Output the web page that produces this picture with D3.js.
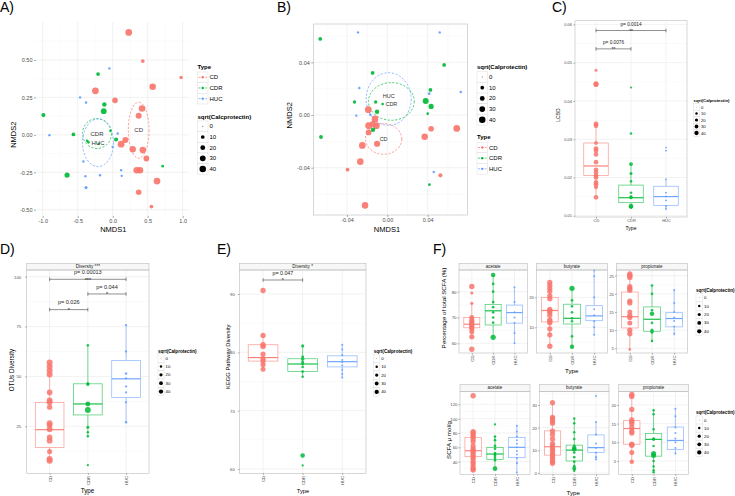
<!DOCTYPE html>
<html><head><meta charset="utf-8">
<script src="https://cdn.jsdelivr.net/npm/d3@7"></script>
<style>
body{margin:0;background:#fff;}
svg{font-family:'Liberation Sans',Arial,sans-serif;display:block;}
</style></head><body>
<svg id="chart" width="735" height="496"></svg>
<script>
// ---------------- DATA ----------------
const types = ["CD","CDR","HUC"];
const typeColors = ["#F8766D","#00BA38","#619CFF"];
const sizeBreaks = [0,10,20,30,40];

// Panel A: [NMDS1, NMDS2, sqrt(Calprotectin)]
const aCD = [[0.229,0.684,34],[0.43,0.493,8],[0.977,0.383,6],[-0.247,0.294,34],[0.571,0.321,32],[0.033,0.23,22],[0.419,0.176,32],[0.371,0.127,26],[0.181,-0.035,26],[0.12,-0.062,34],[0.286,-0.096,30],[0.43,-0.102,32],[0.481,-0.158,24],[0.343,-0.236,32],[0.39,-0.236,32],[0.633,-0.309,34],[0.371,-0.383,22],[0.553,-0.479,8]];
const aCDR = [[-0.99,0.132,10],[-0.209,0.406,8],[-0.119,0.203,12],[-0.128,0.158,24],[-0.561,0.003,8],[-0.652,-0.269,18],[0.048,-0.031,10],[0.714,-0.209,3],[-0.366,-0.04,3],[-0.2,-0.06,3],[-0.033,0.027,3],[-0.347,-0.05,3]];
const aHUC = [[-0.047,0.444,2],[-0.466,0.25,2],[-0.381,0.216,2],[-0.904,-0.002,2],[-0.419,-0.178,2],[-0.39,-0.276,2],[-0.381,-0.352,5],[-0.181,-0.27,2],[0.12,-0.236,2],[0.129,-0.274,2],[0.071,0.009,2],[0.0,-0.08,2]];
const aEllipses = [["CD",0.371,0.031,0.148,0.187],["CDR",-0.224,0.009,0.207,0.1],["HUC",-0.21,-0.053,0.221,0.159]];
const aXTicks = [-1,-0.5,0,0.5,1];
const aYTicks = [-0.5,-0.25,0,0.25,0.5];

// Panel B
const bCD = [[-0.0189,0.004,34],[-0.0122,-0.003,34],[-0.0186,-0.0081,34],[-0.0109,-0.0081,34],[-0.0146,-0.0068,24],[-0.0186,-0.0132,24],[-0.0248,-0.0231,34],[-0.0102,-0.0218,28],[-0.0268,-0.0354,32],[-0.0394,-0.0415,8],[-0.0221,-0.0686,32],[0.037,-0.0165,32],[0.0434,-0.0104,22],[0.0688,-0.0102,34],[0.0526,-0.0458,10]];
const bCDR = [[-0.0665,0.0577,8],[-0.0658,-0.0167,8],[-0.0146,0.0319,8],[-0.0325,0.0099,6],[-0.0116,0.0099,6],[-0.0102,0.0025,12],[-0.0142,-0.0112,12],[-0.0047,0.0083,3],[0.038,0.0106,26],[0.0434,0.0065,18],[0.0563,0.038,8],[0.0427,0.019,8],[0.04,0.001,3],[0.0417,-0.0529,3]];
const bHUC = [[-0.0291,0.0627,2],[0.0519,0.0627,2],[-0.0278,0.0205,2],[-0.0308,-0.0005,2],[0.0728,0.0175,2],[0.0414,0.0162,3],[0.046,-0.0433,2],[-0.0169,0.0002,2]];
const bEllipses = [["CD",-0.0037,-0.0182,0.018,0.0116],["CDR",0.004,0.0103,0.0227,0.0143],["HUC",0.0013,0.0121,0.0223,0.020]];
const bTicks = [-0.04,0,0.04];

// Panel C (LCBD): points [value, sqrt(Calprotectin)], box [lower, q1, median, q3, upper]
const cPoints = {
  CD:[[0.048,8],[0.0445,30],[0.0443,30],[0.034,28],[0.0335,25],[0.029,15],[0.0275,28],[0.027,25],[0.026,25],[0.024,25],[0.022,25],[0.0213,25],[0.0205,25],[0.02,25],[0.0187,25],[0.0182,25],[0.0175,20],[0.0148,25]],
  CDR:[[0.0435,3],[0.0315,5],[0.0235,15],[0.021,8],[0.019,6],[0.016,6],[0.015,8],[0.0147,10],[0.0125,25],[0.0122,10]],
  HUC:[[0.0278,2],[0.027,2],[0.0195,2],[0.016,2],[0.015,2],[0.014,2],[0.0125,2],[0.0118,2]]};
const cBox = {CD:[0.0148,0.0205,0.023,0.029,0.034],CDR:[0.0122,0.0134,0.0147,0.018,0.0235],HUC:[0.0115,0.0127,0.015,0.0177,0.0195]};
const cTicks = [0.01,0.02,0.03,0.04,0.05,0.06];
const cBrackets = [["CD","HUC",0.0584,"p= 0.0014","**"],["CD","CDR",0.0536,"p= 0.0076","**"]];

// Panel D (OTUs diversity)
const dPoints = {
  CD:[[57,30],[55,30],[53,30],[51,30],[42,25],[38,28],[37,28],[34.6,22],[26.5,28],[25.5,25],[23.5,28],[19.5,25],[17.8,28],[12.4,20],[8.6,30],[7.7,30]],
  CDR:[[65.6,3],[46.5,5],[46,5],[36.2,18],[33.2,28],[24.5,5],[22,3],[20,3],[5.5,2]],
  HUC:[[75.7,2],[62.5,2],[51.5,3],[49,2],[45,2],[42,2],[37,2],[27,3]]};
const dBox = {CD:[7.7,14.4,23.3,36.9,57],CDR:[20,30.7,36.2,46.3,65.6],HUC:[27,39.4,48.8,58,75.7]};
const dTicks = [25,50,75,100];
const dBrackets = [["CD","HUC",98.7,"p= 0.00013","***"],["CDR","HUC",91.35,"p= 0.044","*"],["CD","CDR",83.5,"p= 0.026","*"]];

// Panel E (KEGG pathway diversity)
const ePoints = {
  CD:[[90.6,30],[82.9,28],[81.3,30],[81,30],[79.7,28],[78.9,30],[78.5,28],[77.9,28],[77.1,25]],
  CDR:[[81.1,8],[79.2,6],[78.8,8],[78.3,6],[78,5],[77.5,5],[76.7,5],[75.8,4],[62.3,20],[60.6,3]],
  HUC:[[81.3,2],[80.5,2],[79.5,2],[78.7,2],[78.3,2],[77.8,2],[77,2],[76.3,2],[75.7,2]]};
const eBox = {CD:[77.1,78.5,79.1,81.3,82.9],CDR:[75.8,76.7,78,78.9,81.1],HUC:[75.7,77.5,78.4,79.4,81.3]};
const eTicks = [60,70,80,90];
const eBrackets = [["CD","CDR",92.4,"p= 0.047","*"]];

// Panel F top (percentage of total SCFA)
const fPctAcetate = {
  CD:[[82,30],[79.5,8],[75.5,8],[70,25],[69,25],[68.5,25],[68,25],[67.5,25],[67,25],[66.5,25],[66,25],[65.5,25],[64.5,25],[62.5,28],[57.7,30]],
  CDR:[[86.5,20],[83,5],[80,5],[76,5],[74,5],[72,5],[70,5],[68,5],[62.3,28]],
  HUC:[[81.7,2],[76,2],[72,2],[70,2],[68,2],[64,2],[60,2]]};
const fPctAcetateBox = {CD:[62.5,66,67.4,70,75.5],CDR:[62.3,67.1,72.6,75.1,86.5],HUC:[60,67.8,71.9,74.8,81.7]};
const fPctButyrate = {
  CD:[[25,28],[24,28],[23,28],[22,28],[20.5,28],[19.5,28],[16,28],[15.5,28],[15,28],[14,28],[12.5,28],[12,28],[11.5,28],[9.5,28],[7.5,28],[3.7,30]],
  CDR:[[23,28],[19,5],[17,5],[15,5],[13,5],[12,5],[7,5],[3.5,18]],
  HUC:[[28.9,2],[27,2],[20,2],[16,2],[14,2],[12,2],[10,2],[7.5,2]]};
const fPctButyrateBox = {CD:[3.7,11.8,15.6,20,25],CDR:[3.5,11.1,13,17.7,23],HUC:[7.4,12.2,13.8,17.2,28.9]};
const fPctPropionate = {
  CD:[[25.5,30],[25,30],[24.5,30],[22,28],[21.5,28],[21,28],[18,28],[17.5,28],[15,25],[14,28],[13.5,28],[12,25],[10,28],[9,28],[4.7,5]],
  CDR:[[22.3,5],[20,5],[15.5,5],[14.5,20],[12,5],[10,8],[9.5,10],[7,4]],
  HUC:[[21,2],[17.5,2],[15,2],[13.5,2],[12.5,2],[11,2],[9,2]]};
const fPctPropionateBox = {CD:[4.7,10.6,13.7,20.5,25.5],CDR:[6.7,9.7,13,16.4,22.3],HUC:[8.5,10.9,13.2,14.8,21.4]};

// Panel F bottom (SCFA umol/g)
const fMolAcetate = {
  CD:[[132,30],[82,28],[80,28],[78,28],[75,28],[72,28],[68,28],[62,28],[58,28],[55,28],[53,28],[50,28],[47,28],[44,28],[40,28],[37,28],[33,28],[30,28],[28.4,28]],
  CDR:[[92,3],[75,5],[70,5],[62,5],[58,5],[52,5],[50,5],[48,5],[45,5],[42,5],[30.3,22]],
  HUC:[[90,2],[82,2],[75,2],[70,2],[65,2],[60,2],[55,2],[50,2],[45,2],[38,2],[25,2]]};
const fMolAcetateBox = {CD:[28.4,47,55.3,74,82],CDR:[30.3,43.3,50.7,60,75],HUC:[25,45.6,60,74,90]};
const fMolButyrate = {
  CD:[[31,28],[24.5,28],[24,28],[23,28],[22,28],[18.5,28],[17,28],[15,28],[13,28],[12,28],[11,28],[10,28],[9,28],[8,28],[7,28],[6,28],[5,28],[4.3,28]],
  CDR:[[24,4],[22,4],[18,4],[15,4],[12,5],[11,20],[10.5,20],[9,5],[7,5],[5,5],[3,5],[2,15],[1,4]],
  HUC:[[34,2],[22.5,2],[17,2],[13,2],[11,2],[9,2],[7,2],[6,2]]};
const fMolButyrateBox = {CD:[4.3,7.9,11.6,18.6,31],CDR:[1.3,5.3,10.1,12.3,24],HUC:[5.9,9.1,11.2,16.8,22.5]};
const fMolPropionate = {
  CD:[[22.8,30],[22.3,30],[18.8,28],[16,28],[15.5,28],[15,28],[14,28],[13,28],[12.5,28],[9.5,30],[9.2,30],[7.3,25],[4.8,20]],
  CDR:[[18.6,4],[17.5,4],[13.5,4],[11,4],[10.8,8],[9,4],[7,25],[6.5,25],[5,4],[3.5,4],[2.5,4],[2,4]],
  HUC:[[19,2],[17,2],[14,2],[12.5,2],[11,2],[10,2],[8.5,2],[7,2]]};
const fMolPropionateBox = {CD:[4.8,9.5,13.7,15.8,22.8],CDR:[2.1,6.3,10.8,12.4,18.6],HUC:[6.9,8.1,10.5,14.1,19]};

// ---------------- DRAWING ----------------
const svg = d3.select("#chart");
svg.append("rect").attr("width",735).attr("height",496).attr("fill","#fff");
const loc = d3.formatLocale({decimal:".",thousands:",",grouping:[3],currency:["",""],minus:"-"});
const color = d3.scaleOrdinal().domain(types).range(typeColors);
const rScale = d3.scaleSqrt().domain([0,40]).range([0.5,3.6]).clamp(true);

function addText(g,x,y,s,o={}){
  const t=g.append("text").attr("x",x).attr("y",y).text(s)
    .attr("font-size",o.size||6).attr("fill",o.fill||"#000")
    .attr("text-anchor",o.anchor||"start");
  if(o.weight) t.attr("font-weight",o.weight);
  if(o.baseline) t.attr("dominant-baseline",o.baseline);
  if(o.rotate) t.attr("transform",`rotate(${o.rotate},${x},${y})`);
  return t;
}
function minors(ticks){const st=ticks[1]-ticks[0];const out=[];for(let i=-1;i<ticks.length;i++)out.push(ticks[0]+(i+0.5)*st);return out;}
function gridAndBg(g,rect,x,y,xMaj,yMaj,xMin,yMin){
  const [L,T,R,B]=rect;
  g.append("rect").attr("x",L).attr("y",T).attr("width",R-L).attr("height",B-T).attr("fill","#fff");
  const hl=(v,w,c)=>{const p=y(v);if(p>=T&&p<=B)g.append("line").attr("x1",L).attr("x2",R).attr("y1",p).attr("y2",p).attr("stroke",c).attr("stroke-width",w);};
  const vl=(v,w,c)=>{const p=x(v);if(p>=L&&p<=R)g.append("line").attr("x1",p).attr("x2",p).attr("y1",T).attr("y2",B).attr("stroke",c).attr("stroke-width",w);};
  (xMin||[]).forEach(v=>vl(v,0.4,"#F3F3F3"));
  (yMin||[]).forEach(v=>hl(v,0.4,"#F3F3F3"));
  xMaj.forEach(v=>vl(v,0.6,"#EAEAEA"));
  yMaj.forEach(v=>hl(v,0.6,"#EAEAEA"));
}
function border(g,rect){const [L,T,R,B]=rect;g.append("rect").attr("x",L).attr("y",T).attr("width",R-L).attr("height",B-T).attr("fill","none").attr("stroke","#BDBDBD").attr("stroke-width",0.6);}
function axes(g,x,y,rect,o){
  const [L,T,R,B]=rect;
  const ax=g.append("g").attr("transform",`translate(0,${B})`).call(d3.axisBottom(x).tickValues(o.xTicks).tickFormat(o.xFmt).tickSize(o.tick).tickPadding(o.xpad));
  const ay=g.append("g").attr("transform",`translate(${L},0)`).call(d3.axisLeft(y).tickValues(o.yTicks).tickFormat(o.yFmt).tickSize(o.tick).tickPadding(o.ypad));
  [ax,ay].forEach(a=>{a.select(".domain").remove();a.selectAll("line").attr("stroke","#555").attr("stroke-width",0.5);
    a.selectAll("text").attr("font-size",o.font).attr("fill","#4D4D4D").attr("font-family","'Liberation Sans',Arial,sans-serif");});
  if(o.rotateX){ax.selectAll("text").attr("transform","rotate(-90)").attr("text-anchor","end").attr("dy","0.35em").attr("x",-(o.tick+o.xpad)).attr("y",0);}
}

function scatterPanel(c){
  const g=svg.append("g");
  const x=d3.scaleLinear().domain(c.xRef).range(c.xPx);
  const y=d3.scaleLinear().domain(c.yRef).range(c.yPx);
  gridAndBg(g,c.rect,x,y,c.xTicks,c.yTicks,minors(c.xTicks),minors(c.yTicks));
  c.ellipses.forEach(([t,cx,cy,rx,ry])=>{
    g.append("ellipse").attr("cx",x(cx)).attr("cy",y(cy)).attr("rx",Math.abs(x(cx+rx)-x(cx))).attr("ry",Math.abs(y(cy+ry)-y(cy)))
      .attr("fill","none").attr("stroke",color(t)).attr("stroke-width",0.7).attr("stroke-dasharray","2.2,1.6");
  });
  types.forEach(t=>{
    g.append("g").selectAll("circle").data(c.points[t]).join("circle")
      .attr("cx",d=>x(d[0])).attr("cy",d=>y(d[1])).attr("r",d=>rScale(d[2])*c.rf)
      .attr("fill",color(t)).attr("fill-opacity",0.92);
  });
  const shift=c.labelShift||{};
  c.ellipses.forEach(([t,cx,cy])=>addText(g,x(cx),y(cy)+(shift[t]||0),t,{size:c.labelFont,anchor:"middle",baseline:"central",fill:"#333"}));
  if(c.border) border(g,c.rect);
  axes(g,x,y,c.rect,{xTicks:c.xTicks,yTicks:c.yTicks,xFmt:c.fmtX,yFmt:c.fmtY,tick:2,xpad:1.5,ypad:1.5,font:c.tickFont});
  addText(g,c.xTitle[0],c.xTitle[1],"NMDS1",{size:c.titleFont,anchor:"middle"});
  addText(g,c.yTitle[0],c.yTitle[1],"NMDS2",{size:c.titleFont,anchor:"middle",rotate:-90});
}

function boxPanel(c){
  const g=svg.append("g");
  const [L,T,R,B]=c.rect;
  const x=d3.scalePoint().domain(types).range([L,R]).padding(0.6);
  const y=d3.scaleLinear().domain(c.yRef).range(c.yPx);
  const bw=x.step()*c.bw;
  gridAndBg(g,c.rect,x,y,types,c.yTicks,null,minors(c.yTicks));
  if(c.strip){
    g.append("rect").attr("x",L).attr("y",c.strip[0]).attr("width",R-L).attr("height",T-c.strip[0]).attr("fill","#F7F7F7").attr("stroke","#BDBDBD").attr("stroke-width",0.6);
    addText(g,(L+R)/2,(c.strip[0]+T)/2,c.strip[1],{size:c.stripFont,anchor:"middle",baseline:"central",fill:"#1A1A1A"});
  }
  types.forEach(t=>{
    const [lo,q1,md,q3,hi]=c.stats[t];const cx=x(t);const cl=color(t);
    const bg=g.append("g").attr("stroke",cl).attr("stroke-opacity",0.75).attr("stroke-width",0.7);
    bg.append("line").attr("x1",cx).attr("x2",cx).attr("y1",y(q3)).attr("y2",y(hi));
    bg.append("line").attr("x1",cx).attr("x2",cx).attr("y1",y(q1)).attr("y2",y(lo));
    bg.append("rect").attr("x",cx-bw/2).attr("width",bw).attr("y",y(q3)).attr("height",y(q1)-y(q3)).attr("fill","#fff");
    bg.append("line").attr("x1",cx-bw/2).attr("x2",cx+bw/2).attr("y1",y(md)).attr("y2",y(md)).attr("stroke-width",1.2).attr("stroke-opacity",0.9);
  });
  types.forEach(t=>{
    g.append("g").selectAll("circle").data(c.points[t]).join("circle")
      .attr("cx",x(t)).attr("cy",d=>y(d[0])).attr("r",d=>rScale(d[1])*c.rf)
      .attr("fill",color(t)).attr("fill-opacity",0.85);
  });
  (c.brackets||[]).forEach(([a,b,v,label,stars])=>{
    const yy=y(v),x1=x(a),x2=x(b),k=g.append("g").attr("stroke","#444").attr("stroke-width",0.6);
    k.append("line").attr("x1",x1).attr("x2",x2).attr("y1",yy).attr("y2",yy);
    k.append("line").attr("x1",x1).attr("x2",x1).attr("y1",yy-1.8).attr("y2",yy+1.8);
    k.append("line").attr("x1",x2).attr("x2",x2).attr("y1",yy-1.8).attr("y2",yy+1.8);
    addText(g,(x1+x2)/2,yy-c.bracketFont*0.95,label,{size:c.bracketFont,anchor:"middle",fill:"#222"});
    addText(g,(x1+x2)/2,yy+c.bracketFont*0.45,stars,{size:c.bracketFont,anchor:"middle",fill:"#222"});
  });
  border(g,c.rect);
  axes(g,x,y,c.rect,{xTicks:types,yTicks:c.yTicks,xFmt:d=>d,yFmt:c.fmtY,tick:1.5,xpad:1,ypad:c.ypad,font:c.tickFont,rotateX:c.rotateX});
  if(c.xTitle) addText(g,c.xTitle[0],c.xTitle[1],"Type",{size:c.titleFont,anchor:"middle"});
  if(c.yTitle) addText(g,c.yTitle[0],c.yTitle[1],c.yTitle[2],{size:c.titleFont,anchor:"middle",rotate:-90});
}

function sizeLegend(c){
  const g=svg.append("g");
  addText(g,c.x,c.titleY,c.title,{size:c.titleFont,weight:"bold"});
  sizeBreaks.forEach((v,i)=>{
    const cy=c.y0+i*c.step;
    g.append("rect").attr("x",c.x).attr("y",cy-c.step/2).attr("width",c.w).attr("height",c.step).attr("fill","#fff").attr("stroke","#D6D6D6").attr("stroke-width",0.4);
    g.append("circle").attr("cx",c.x+c.w/2).attr("cy",cy).attr("r",rScale(v)*c.rf).attr("fill","#000");
    addText(g,c.x+c.w+1.5,cy,v,{size:c.font,baseline:"central"});
  });
}
function typeLegend(c){
  const g=svg.append("g");
  addText(g,c.x,c.titleY,"Type",{size:c.titleFont,weight:"bold"});
  types.forEach((t,i)=>{
    const cy=c.y0+i*c.step;
    g.append("rect").attr("x",c.x).attr("y",cy-c.step/2).attr("width",c.w).attr("height",c.step).attr("fill","#fff").attr("stroke","#D6D6D6").attr("stroke-width",0.4);
    g.append("line").attr("x1",c.x+1).attr("x2",c.x+c.w-1).attr("y1",cy).attr("y2",cy).attr("stroke",color(t)).attr("stroke-width",0.7).attr("stroke-dasharray","2,1.4");
    g.append("circle").attr("cx",c.x+c.w/2).attr("cy",cy).attr("r",1.2).attr("fill",color(t));
    addText(g,c.x+c.w+1.5,cy,t,{size:c.font,baseline:"central"});
  });
}

// ----- Panel A -----
scatterPanel({rect:[36,22,189,216],xRef:[-1,1],xPx:[42.7,182.7],yRef:[-0.5,0.5],yPx:[209.7,60],
  xTicks:aXTicks,yTicks:aYTicks,fmtX:loc.format(".1f"),fmtY:loc.format(".2f"),
  points:{CD:aCD,CDR:aCDR,HUC:aHUC},ellipses:aEllipses,rf:1,labelFont:6,tickFont:5.5,titleFont:7.5,border:false,
  xTitle:[113.3,232],yTitle:[16.5,134.7]});
typeLegend({x:197.5,w:10.5,titleY:69,y0:77.3,step:10.67,font:6,titleFont:6});
sizeLegend({x:197.5,w:10.5,titleY:119,y0:126.3,step:10.67,font:6,titleFont:6,rf:0.9,title:"sqrt(Calcprotectin)"});

// ----- Panel B -----
scatterPanel({rect:[313.3,24,467.7,215],xRef:[-0.04,0.04],xPx:[347,427.7],yRef:[-0.04,0.04],yPx:[167.7,62.3],
  xTicks:bTicks,yTicks:bTicks,fmtX:loc.format(".2f"),fmtY:loc.format(".2f"),
  points:{CD:bCD,CDR:bCDR,HUC:bHUC},ellipses:bEllipses,rf:1,labelFont:5.5,tickFont:5.5,titleFont:7.5,border:true,
  labelShift:{HUC:-3,CDR:2.6},
  xTitle:[387,232],yTitle:[292.5,115.3]});
sizeLegend({x:477,w:10.5,titleY:69,y0:77,step:10.7,font:6,titleFont:6,rf:0.9,title:"sqrt(Calprotectin)"});
typeLegend({x:477,w:10.5,titleY:139,y0:147.5,step:10.67,font:6,titleFont:6});

// ----- Panel C -----
boxPanel({rect:[575,20.7,687,217],yRef:[0.01,0.06],yPx:[215.7,24.4],yTicks:cTicks,fmtY:loc.format(".2f"),
  points:cPoints,stats:cBox,brackets:cBrackets,bw:0.7,rf:0.8,tickFont:4,ypad:1.5,bracketFont:4.7,titleFont:5,
  xTitle:[631,230],yTitle:[560,115,"LCBD"]});
sizeLegend({x:693.5,w:6,titleY:102,y0:107,step:6.5,font:4.2,titleFont:4.3,rf:0.6,title:"sqrt(Calprotectin)"});

// ----- Panel D -----
boxPanel({rect:[26.7,270,149,473.3],strip:[263.3,"Diversity ***"],stripFont:4.6,yRef:[25,100],yPx:[426.3,276.7],yTicks:dTicks,fmtY:d3.format("d"),
  points:dPoints,stats:dBox,brackets:dBrackets,bw:0.75,rf:0.95,tickFont:4.3,ypad:4,bracketFont:5.5,titleFont:6.3,rotateX:true,
  xTitle:[87.5,493],yTitle:[14,370,"OTUs Diversity"]});
sizeLegend({x:158,w:6,titleY:352.5,y0:358,step:8.4,font:4.3,titleFont:4.6,rf:0.6,title:"sqrt(Calprotectin)"});

// ----- Panel E -----
boxPanel({rect:[239.3,270,366,473.3],strip:[263.3,"Diversity *"],stripFont:4.6,yRef:[60,90],yPx:[469,294],yTicks:eTicks,fmtY:d3.format("d"),
  points:ePoints,stats:eBox,brackets:eBrackets,bw:0.75,rf:0.85,tickFont:4.3,ypad:3,bracketFont:5.3,titleFont:5.8,rotateX:true,
  xTitle:[303,493],yTitle:[230,356.7,"KEGG Pathway Diversity"]});
sizeLegend({x:373.7,w:6,titleY:352.5,y0:358.3,step:8.4,font:4.3,titleFont:4.6,rf:0.6,title:"sqrt(Calprotectin)"});

// ----- Panel F -----
const fTopOpts={strip:null,bw:0.75,rf:0.85,tickFont:4.3,ypad:1,titleFont:6.2,rotateX:true,stripFont:4.5};
boxPanel(Object.assign({},fTopOpts,{rect:[459,270,527.3,353],strip:[263.3,"acetate"],yRef:[60,80],yPx:[343.3,291.7],yTicks:[60,70,80],fmtY:d3.format("d"),
  points:fPctAcetate,stats:fPctAcetateBox,yTitle:[446,308,"Percentage of total SCFA (%)"]}));
boxPanel(Object.assign({},fTopOpts,{rect:[536.5,270,607.5,353],strip:[263.3,"butyrate"],yRef:[10,20],yPx:[327.3,297.3],yTicks:[10,20],fmtY:d3.format("d"),
  points:fPctButyrate,stats:fPctButyrateBox,xTitle:[571.7,373]}));
boxPanel(Object.assign({},fTopOpts,{rect:[616.5,270,687.5,353],strip:[263.3,"propionate"],yRef:[5,25],yPx:[348.3,275.7],yTicks:[5,10,15,20,25],fmtY:d3.format("d"),
  points:fPctPropionate,stats:fPctPropionateBox}));
sizeLegend({x:696,w:6.5,titleY:292,y0:297.7,step:8.4,font:4.3,titleFont:4.6,rf:0.6,title:"sqrt(Calprotectin)"});

boxPanel(Object.assign({},fTopOpts,{rect:[460,391.3,530,474.5],strip:[384.5,"acetate"],yRef:[40,120],yPx:[461.7,404.3],yTicks:[40,60,80,100,120],fmtY:d3.format("d"),
  points:fMolAcetate,stats:fMolAcetateBox,yTitle:[451,440,"SCFA μ mol/g"]}));
boxPanel(Object.assign({},fTopOpts,{rect:[539.5,391.3,609,474.5],strip:[384.5,"butyrate"],yRef:[0,30],yPx:[473,405],yTicks:[0,10,20,30],fmtY:d3.format("d"),
  points:fMolButyrate,stats:fMolButyrateBox,xTitle:[573.3,494.5]}));
boxPanel(Object.assign({},fTopOpts,{rect:[618.7,391.3,688.5,474.5],strip:[384.5,"propionate"],yRef:[5,20],yPx:[461,405],yTicks:[5,10,15,20],fmtY:d3.format("d"),
  points:fMolPropionate,stats:fMolPropionateBox}));
sizeLegend({x:696,w:6.5,titleY:414,y0:420,step:8.1,font:4.3,titleFont:4.6,rf:0.6,title:"sqrt(Calprotectin)"});

// ----- Panel letters -----
const lg=svg.append("g");
[["A)",0,12],["B)",277,12],["C)",552,12],["D)",0,254],["E)",217,254],["F)",433,253.5]].forEach(([s,x,y])=>addText(lg,x,y,s,{size:14}));
</script>
</body></html>
